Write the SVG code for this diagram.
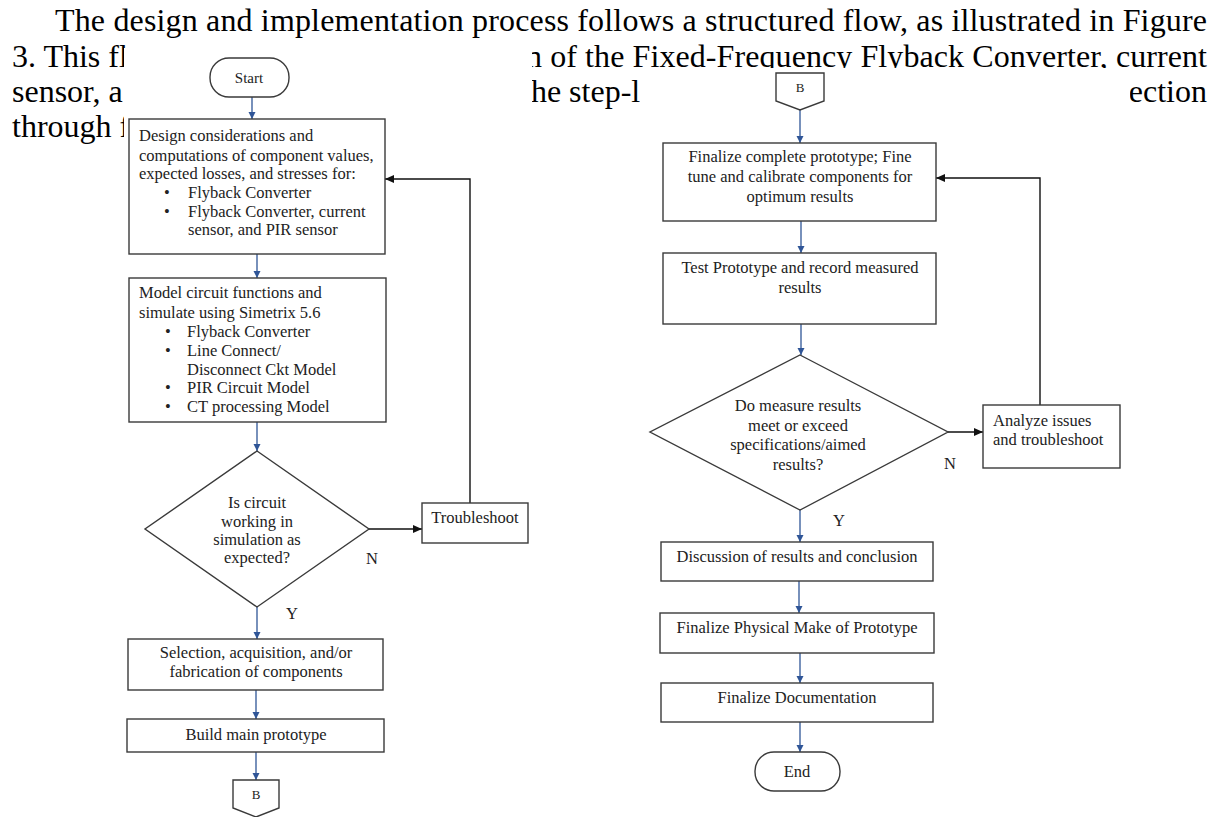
<svg xmlns="http://www.w3.org/2000/svg" width="1220" height="817" viewBox="0 0 1220 817">
<defs>
<marker id="ab" markerUnits="userSpaceOnUse" markerWidth="8" markerHeight="8" refX="7" refY="3.5" orient="auto"><path d="M0,0 L7,3.5 L0,7 z" fill="#2f5597"/></marker>
<marker id="ak" markerUnits="userSpaceOnUse" markerWidth="10" markerHeight="10" refX="9" refY="4" orient="auto"><path d="M0,0 L9,4 L0,8 z" fill="#111"/></marker>
</defs>
<style>
.p{font-family:"Liberation Serif","Times New Roman",serif;font-size:32px;fill:#000}
.t{font-family:"Liberation Serif","Times New Roman",serif;font-size:16.5px;fill:#222}
.c{text-anchor:middle}
.b{fill:#fff;stroke:#3a3a3a;stroke-width:1.4}
.cb{fill:none;stroke:#2f5597;stroke-width:1.3;marker-end:url(#ab)}
.ck{fill:none;stroke:#111;stroke-width:1.4;marker-end:url(#ak)}
.occ{fill:#fff;stroke:none}
</style>
<rect width="1220" height="817" fill="#fff"/>
<g id="paragraph">
<text class="p" x="55" y="31" textLength="1152" lengthAdjust="spacing">The design and implementation process follows a structured flow, as illustrated in Figure</text>
<text class="p" x="12" y="67">3. This fl</text>
<text class="p" x="526" y="67" textLength="681" lengthAdjust="spacing">n of the Fixed-Frequency Flyback Converter, current</text>
<text class="p" x="12" y="102">sensor,  a</text>
<text class="p" x="522" y="102">the  step-l</text>
<text class="p" x="1207" y="102" text-anchor="end">ection</text>
<text class="p" x="12" y="137">through f</text>
</g>
<rect class="occ" x="124" y="48" width="408" height="769"/>
<rect class="occ" x="640" y="68" width="490" height="749"/>
<g id="connectors">
<path class="cb" d="M252,97 V119"/>
<path class="cb" d="M257,254 V278"/>
<path class="cb" d="M257,422 V451"/>
<path class="cb" d="M257,607 V639"/>
<path class="ck" d="M369,529 H422"/>
<path class="ck" d="M470,503 V179 H385"/>
<path class="cb" d="M256,690 V719"/>
<path class="cb" d="M256,752 V780"/>
<path class="cb" d="M800,110 V143"/>
<path class="cb" d="M801,221 V253"/>
<path class="cb" d="M801,324 V355"/>
<path class="ck" d="M948,432 H983"/>
<path class="ck" d="M1040,405 V178 H936"/>
<path class="cb" d="M800,510 V542"/>
<path class="cb" d="M799,581 V613"/>
<path class="cb" d="M800,653 V683"/>
<path class="cb" d="M800,722 V752"/>
<text class="t" x="372" y="564" text-anchor="middle">N</text>
<text class="t" x="292" y="619" text-anchor="middle">Y</text>
<text class="t" x="950" y="469" text-anchor="middle">N</text>
<text class="t" x="839" y="526" text-anchor="middle">Y</text>
</g>
<g id="start">
<rect class="b" x="210" y="58" width="79" height="39" rx="19"/>
<text class="t c" x="249" y="83" style="font-size:15px">Start</text>
</g>
<g id="design">
<rect class="b" x="129" y="119" width="256" height="135"/>
<text class="t" x="139" y="141">Design considerations and</text>
<text class="t" x="139" y="161">computations of component values,</text>
<text class="t" x="139" y="179">expected losses, and stresses for:</text>
<text class="t" x="164" y="198">•</text><text class="t" x="188" y="198">Flyback Converter</text>
<text class="t" x="164" y="217">•</text><text class="t" x="188" y="217">Flyback Converter, current</text>
<text class="t" x="188" y="235">sensor, and PIR sensor</text>
</g>
<g id="model">
<rect class="b" x="129" y="278" width="257" height="144"/>
<text class="t" x="139" y="298">Model circuit functions and</text>
<text class="t" x="139" y="318">simulate using Simetrix 5.6</text>
<text class="t" x="165" y="337">•</text><text class="t" x="187" y="337">Flyback Converter</text>
<text class="t" x="165" y="356">•</text><text class="t" x="187" y="356">Line Connect/</text>
<text class="t" x="187" y="375">Disconnect Ckt Model</text>
<text class="t" x="165" y="393">•</text><text class="t" x="187" y="393">PIR Circuit Model</text>
<text class="t" x="165" y="412">•</text><text class="t" x="187" y="412">CT processing Model</text>
</g>
<g id="decision1">
<polygon class="b" points="257,451 369,529 257,607 145,529"/>
<text class="t c" x="257" y="508">Is circuit</text>
<text class="t c" x="257" y="527">working in</text>
<text class="t c" x="257" y="545">simulation as</text>
<text class="t c" x="257" y="563">expected?</text>
</g>
<g id="troubleshoot">
<rect class="b" x="422" y="503" width="106" height="40"/>
<text class="t c" x="475" y="523">Troubleshoot</text>
</g>
<g id="selection">
<rect class="b" x="128" y="639" width="255" height="51"/>
<text class="t c" x="256" y="658">Selection, acquisition, and/or</text>
<text class="t c" x="256" y="677">fabrication of components</text>
</g>
<g id="build">
<rect class="b" x="127" y="719" width="257" height="33"/>
<text class="t c" x="256" y="740">Build main prototype</text>
</g>
<g id="offpage-b-left">
<polygon class="b" points="233,780 279,780 279,808 256,817 233,808"/>
<text class="t c" x="256" y="799" style="font-size:13px">B</text>
</g>
<g id="offpage-b-right">
<polygon class="b" points="776,73 824,73 824,101 800,110 776,101"/>
<text class="t c" x="800" y="92" style="font-size:13px">B</text>
</g>
<g id="finalize-prototype">
<rect class="b" x="663" y="143" width="273" height="78"/>
<text class="t c" x="800" y="162">Finalize complete prototype; Fine</text>
<text class="t c" x="800" y="182">tune and calibrate components for</text>
<text class="t c" x="800" y="202">optimum results</text>
</g>
<g id="test">
<rect class="b" x="663" y="253" width="273" height="71"/>
<text class="t c" x="800" y="273">Test Prototype and record measured</text>
<text class="t c" x="800" y="293">results</text>
</g>
<g id="decision2">
<polygon class="b" points="800,355 948,432 800,510 650,432"/>
<text class="t c" x="798" y="411">Do measure results</text>
<text class="t c" x="798" y="431">meet or exceed</text>
<text class="t c" x="798" y="450">specifications/aimed</text>
<text class="t c" x="798" y="470">results?</text>
</g>
<g id="analyze">
<rect class="b" x="983" y="405" width="137" height="63"/>
<text class="t" x="993" y="426">Analyze issues</text>
<text class="t" x="993" y="445">and troubleshoot</text>
</g>
<g id="discussion">
<rect class="b" x="661" y="542" width="272" height="39"/>
<text class="t c" x="797" y="562">Discussion of results and conclusion</text>
</g>
<g id="physical">
<rect class="b" x="660" y="613" width="274" height="40"/>
<text class="t c" x="797" y="633">Finalize Physical Make of Prototype</text>
</g>
<g id="documentation">
<rect class="b" x="661" y="683" width="272" height="39"/>
<text class="t c" x="797" y="703">Finalize Documentation</text>
</g>
<g id="end">
<rect class="b" x="755" y="752" width="85" height="39" rx="19"/>
<text class="t c" x="797" y="777">End</text>
</g>
</svg>
